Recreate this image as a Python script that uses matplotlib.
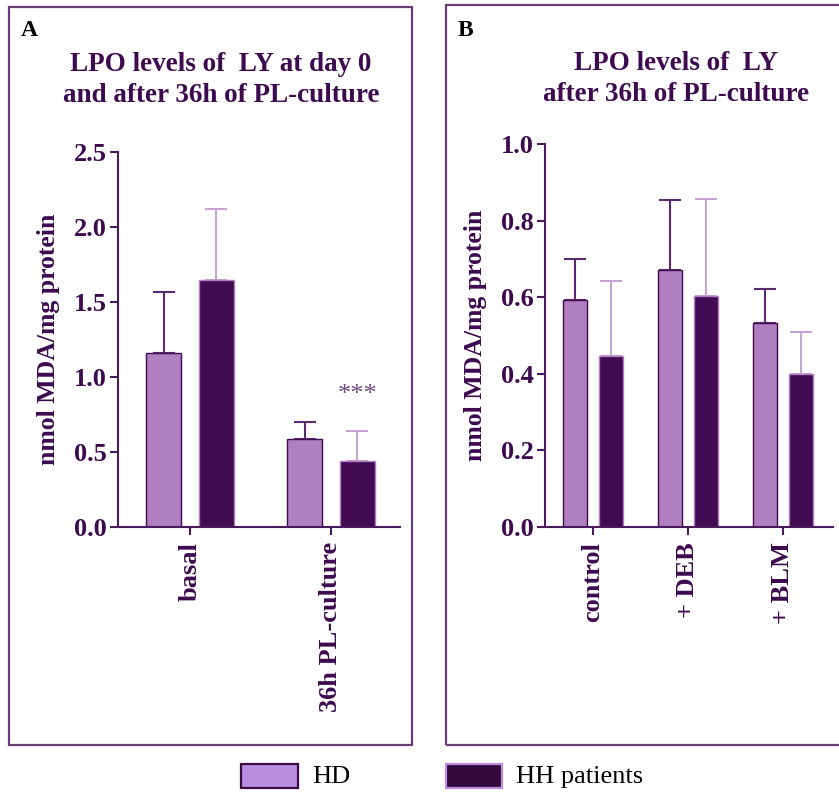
import matplotlib
matplotlib.use("Agg")
import matplotlib.pyplot as plt
from matplotlib.patches import Rectangle

plt.rcParams['font.family'] = ['Liberation Serif', 'DejaVu Serif']

# panel A data
a_labels = ["basal", "36h PL-culture"]
a_hd = [1.16, 0.59]
a_hd_err = [0.41, 0.11]
a_hh = [1.65, 0.44]
a_hh_err = [0.47, 0.20]

# panel B data
b_labels = ["control", "+ DEB", "+ BLM"]
b_hd = [0.593, 0.671, 0.532]
b_hd_err = [0.107, 0.183, 0.089]
b_hh = [0.446, 0.603, 0.400]
b_hh_err = [0.196, 0.253, 0.108]

legend_labels = ["HD", "HH patients"]

light = "#b07fbf"
dark = "#420a52"
axcol = "#4a1a5e"
txtcol = "#3d0a4f"
framecol = "#6a3d7a"

fig = plt.figure(figsize=(8.39, 7.94), dpi=100)
W, H = 839, 794


def fx(px):
    return px / W


def fy(py):
    return 1 - py / H


# panel frames
fig.add_artist(Rectangle((fx(9), fy(745)), fx(412 - 9), (745 - 7) / H,
                         transform=fig.transFigure, fill=False,
                         edgecolor=framecol, lw=1.6))
fig.add_artist(Rectangle((fx(446), fy(745)), fx(839 + 10 - 446), (745 - 5) / H,
                         transform=fig.transFigure, fill=False,
                         edgecolor=framecol, lw=1.6, clip_on=False))

fig.text(fx(21), fy(31), "A", fontsize=17, fontweight="bold", color="black",
         va="center", ha="left")
fig.text(fx(458), fy(31), "B", fontsize=17, fontweight="bold", color="black",
         va="center", ha="left")

fig.text(fx(221), fy(80), "LPO levels of  LY at day 0\nand after 36h of PL-culture",
         fontsize=19.5, fontweight="bold", color=txtcol, ha="center", va="center",
         linespacing=1.3)
fig.text(fx(676), fy(79), "LPO levels of  LY\nafter 36h of PL-culture",
         fontsize=19.5, fontweight="bold", color=txtcol, ha="center", va="center",
         linespacing=1.3)


def style_axes(ax):
    for s in ["top", "right"]:
        ax.spines[s].set_visible(False)
    for s in ["left", "bottom"]:
        ax.spines[s].set_color(axcol)
        ax.spines[s].set_linewidth(1.5)
    ax.tick_params(axis="both", colors=axcol, width=1.5, length=6)
    ax.tick_params(axis="y", labelsize=19, labelcolor=txtcol, pad=2)
    ax.tick_params(axis="x", labelsize=19, labelcolor=txtcol, pad=5)
    for t in ax.get_xticklabels() + ax.get_yticklabels():
        t.set_fontweight("bold")
    ax.set_ylabel("nmol MDA/mg protein", fontsize=18.5, fontweight="bold",
                  color=txtcol, labelpad=10)


def draw_bars(ax, labels, hd, hd_err, hh, hh_err, w, off):
    x = list(range(len(labels)))
    xh = [i - off for i in x]
    xk = [i + off for i in x]
    ax.bar(xh, hd, width=w, color=light, edgecolor=dark, lw=1.0, zorder=2)
    ax.bar(xk, hh, width=w, color=dark, edgecolor=light, lw=1.0, zorder=2)
    ax.errorbar(xh, hd, yerr=[[0] * len(hd), hd_err], fmt="none",
                ecolor="#5a2a6e", elinewidth=1.5, capsize=8, capthick=1.5, zorder=1)
    ax.errorbar(xk, hh, yerr=[[0] * len(hh), hh_err], fmt="none",
                ecolor="#c7a3d3", elinewidth=1.5, capsize=8, capthick=1.5, zorder=1)
    ax.set_xticks(x)
    ax.set_xticklabels(labels, rotation=90, va="top")


# panel A
axA = fig.add_axes([fx(118), fy(527), fx(400 - 118), (527 - 152) / H])
draw_bars(axA, a_labels, a_hd, a_hd_err, a_hh, a_hh_err, 0.25, 0.187)
axA.set_xlim(-0.51, 1.49)
axA.set_ylim(0, 2.5)
axA.set_yticks([0, 0.5, 1.0, 1.5, 2.0, 2.5])
axA.set_yticklabels(["0.0", "0.5", "1.0", "1.5", "2.0", "2.5"])
style_axes(axA)
axA.text(1 + 0.187, 0.88, "***", ha="center", va="center", fontsize=19,
         color="#6e4a80")

# panel B
axB = fig.add_axes([fx(545), fy(527), fx(833 - 545), (527 - 144) / H])
draw_bars(axB, b_labels, b_hd, b_hd_err, b_hh, b_hh_err, 0.25, 0.19)
axB.set_xlim(-0.505, 2.53)
axB.set_ylim(0, 1.0)
axB.set_yticks([0, 0.2, 0.4, 0.6, 0.8, 1.0])
axB.set_yticklabels(["0.0", "0.2", "0.4", "0.6", "0.8", "1.0"])
style_axes(axB)

# legend, drawn by hand to place the keys like the original
fig.add_artist(Rectangle((fx(241), fy(788)), fx(57), 24 / H, transform=fig.transFigure,
                         facecolor="#b98ee0", edgecolor="#3a0a40", lw=1.6))
fig.add_artist(Rectangle((fx(446), fy(788)), fx(56), 24 / H, transform=fig.transFigure,
                         facecolor="#370a3f", edgecolor="#b98ee0", lw=1.6))
fig.text(fx(312), fy(777), legend_labels[0], fontsize=19, color="black",
         ha="left", va="center")
fig.text(fx(516), fy(777), legend_labels[1], fontsize=19, color="black",
         ha="left", va="center")

fig.savefig("out.png", dpi=100)
